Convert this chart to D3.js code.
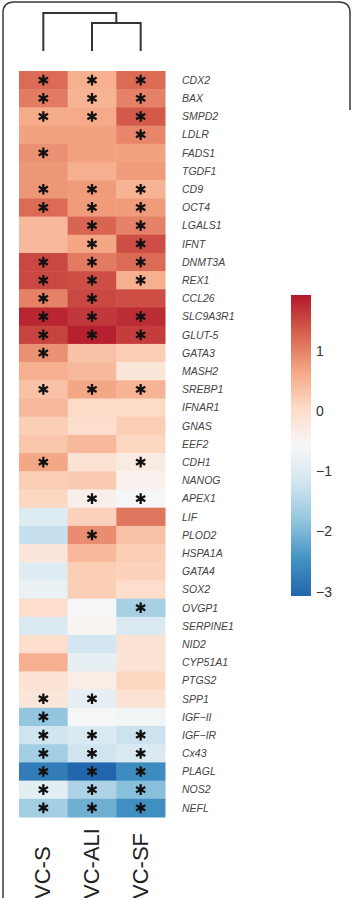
<!DOCTYPE html>
<html><head><meta charset="utf-8">
<script src="https://cdn.jsdelivr.net/npm/d3@7"></script>
<style>html,body{margin:0;padding:0;background:#fff;}svg{display:block;}</style>
</head><body>
<svg id="c" width="352" height="898"></svg>
<script>
const columns = ["VC-S", "VC-ALI", "VC-SF"];
const genes = ["CDX2","BAX","SMPD2","LDLR","FADS1","TGDF1","CD9","OCT4","LGALS1","IFNT",
  "DNMT3A","REX1","CCL26","SLC9A3R1","GLUT-5","GATA3","MASH2","SREBP1","IFNAR1","GNAS",
  "EEF2","CDH1","NANOG","APEX1","LIF","PLOD2","HSPA1A","GATA4","SOX2","OVGP1",
  "SERPINE1","NID2","CYP51A1","PTGS2","SPP1","IGF\u2212II","IGF\u2212IR","Cx43","PLAGL","NOS2","NEFL"];
const valuesVCS = [1.2,1.05,0.6,0.7,0.85,0.8,0.8,1.2,0.45,0.45,
  1.5,1.5,1.0,1.8,1.55,0.85,0.55,0.35,0.45,0.2,
  0.3,0.65,0.2,0.1,-1.0,-1.3,-0.2,-0.95,-0.8,0.0,
  -1.05,0.0,0.55,-0.1,-0.2,-1.8,-1.2,-1.65,-2.75,-0.9,-1.65];
const valuesVCALI = [0.55,0.5,0.6,0.7,0.7,0.55,0.75,0.75,1.25,0.65,
  1.05,1.45,1.5,1.65,1.85,0.35,0.45,0.65,0.05,0.0,
  0.45,-0.1,0.25,-0.4,0.15,0.9,0.45,0.2,0.2,-0.6,
  -0.5,-1.15,-0.85,-0.35,-0.85,-0.6,-1.05,-1.2,-3.05,-1.55,-2.1];
const valuesVCSF = [1.2,1.0,1.35,0.95,0.7,0.75,0.5,0.75,1.0,1.45,
  1.2,0.55,1.45,1.75,1.6,0.2,-0.2,0.5,0.05,0.2,
  0.1,-0.3,-0.45,-0.6,1.1,0.35,0.2,0.15,0.0,-1.6,
  -1.05,-0.1,-0.15,0.1,-0.1,-0.65,-1.25,-1.05,-2.55,-1.9,-2.5];
// significance flags (1 = asterisk)
const sigVCS = [1,1,1,0,1,0,1,1,0,0, 1,1,1,1,1,1,0,1,0,0, 0,1,0,0,0,0,0,0,0,0, 0,0,0,0,1,1,1,1,1,1,1];
const sigVCALI = [1,1,1,0,0,0,1,1,1,1, 1,1,1,1,1,0,0,1,0,0, 0,0,0,1,0,1,0,0,0,0, 0,0,0,0,1,0,1,1,1,1,1];
const sigVCSF = [1,1,1,1,0,0,1,1,1,1, 1,1,0,1,1,0,0,1,0,0, 0,1,0,1,0,0,0,0,0,1, 0,0,0,0,0,0,1,1,1,1,1];
const colorTicks = [1, 0, -1, -2, -3];
const scaleMin = -3.07, scaleMax = 1.92;
const rdbu = ["#2166ac","#4393c3","#92c5de","#d1e5f0","#f7f7f7","#fddbc7","#f4a582","#d6604d","#b2182b"];
// dendrogram: merge heights (inner: VC-ALI+VC-SF, root)
const dendroHeights = [0.74, 1.0];

const values = [valuesVCS, valuesVCALI, valuesVCSF];
const sigs = [sigVCS, sigVCALI, sigVCSF];

const svg = d3.select("#c");

// frame
svg.append("path")
  .attr("d", "M3,898 L3,13 Q3,2 14,2 L339,2 Q350,2 350,13 L350,110")
  .attr("fill","none").attr("stroke","#3a3a3a").attr("stroke-width",1.5);

const x = d3.scaleBand().domain(columns).range([19, 165]);
const y = d3.scaleBand().domain(genes).range([71, 817]);
const color = d3.scaleLinear()
  .domain(d3.range(rdbu.length).map(i => scaleMin + i * (scaleMax - scaleMin) / (rdbu.length - 1)))
  .range(rdbu).interpolate(d3.interpolateRgb).clamp(true);

const cells = [];
columns.forEach((c, ci) => genes.forEach((g, gi) => cells.push({c, g, v: values[ci][gi], s: sigs[ci][gi]})));

svg.append("g").selectAll("rect").data(cells).join("rect")
  .attr("x", d => x(d.c)).attr("y", d => y(d.g))
  .attr("width", x.bandwidth() + 0.5).attr("height", y.bandwidth() + 0.5)
  .attr("fill", d => color(d.v));

const star = d3.symbol().type(d3.symbolAsterisk).size(80);
svg.append("g").selectAll("path").data(cells.filter(d => d.s)).join("path")
  .attr("transform", d => `translate(${x(d.c) + x.bandwidth()/2},${y(d.g) + y.bandwidth()/2})`)
  .attr("d", star).attr("fill","none").attr("stroke","#111").attr("stroke-width",2.3);

// row labels
svg.append("g").selectAll("text").data(genes).join("text")
  .attr("x", 182).attr("y", d => y(d) + y.bandwidth()/2)
  .attr("dy","0.36em")
  .attr("font-family","'Liberation Sans', Arial, sans-serif")
  .attr("font-style","italic").attr("font-size", 10.5).attr("fill","#444")
  .text(d => d);

// column labels
svg.append("g").selectAll("text").data(columns).join("text")
  .attr("transform", d => `translate(${x(d) + x.bandwidth()/2 + 7},899) rotate(-90)`)
  .attr("font-family","'Liberation Sans', Arial, sans-serif")
  .attr("font-size", 22).attr("fill","#222")
  .text(d => d);

// dendrogram
const hy = d3.scaleLinear().domain([0, 1]).range([51, 13]);
const cx = c => x(c) + x.bandwidth()/2;
const innerMid = (cx(columns[1]) + cx(columns[2])) / 2;
const dendroLines = [
  [[cx(columns[1]), hy(0)], [cx(columns[1]), hy(dendroHeights[0])], [cx(columns[2]), hy(dendroHeights[0])], [cx(columns[2]), hy(0)]],
  [[cx(columns[0]), hy(0)], [cx(columns[0]), hy(dendroHeights[1])], [innerMid, hy(dendroHeights[1])], [innerMid, hy(dendroHeights[0])]]
];
svg.append("g").selectAll("path").data(dendroLines).join("path")
  .attr("d", d3.line()).attr("fill","none").attr("stroke","#333").attr("stroke-width",2);

// color bar
const cb = d3.scaleLinear().domain([scaleMin, scaleMax]).range([596, 295]);
const defs = svg.append("defs");
const grad = defs.append("linearGradient").attr("id","g").attr("x1",0).attr("x2",0).attr("y1",1).attr("y2",0);
rdbu.forEach((c, i) => grad.append("stop").attr("offset", i/(rdbu.length-1)).attr("stop-color", c));
svg.append("rect").attr("x",291).attr("y",cb(scaleMax)).attr("width",20)
  .attr("height", cb(scaleMin) - cb(scaleMax)).attr("fill","url(#g)");
svg.append("g").selectAll("text").data(colorTicks).join("text")
  .attr("x", 316).attr("y", d => cb(d)).attr("dy","0.36em")
  .attr("font-family","'Liberation Sans', Arial, sans-serif")
  .attr("font-size", 14).attr("fill","#333")
  .text(d => d < 0 ? "\u2212" + Math.abs(d) : d);
</script>
</body></html>
